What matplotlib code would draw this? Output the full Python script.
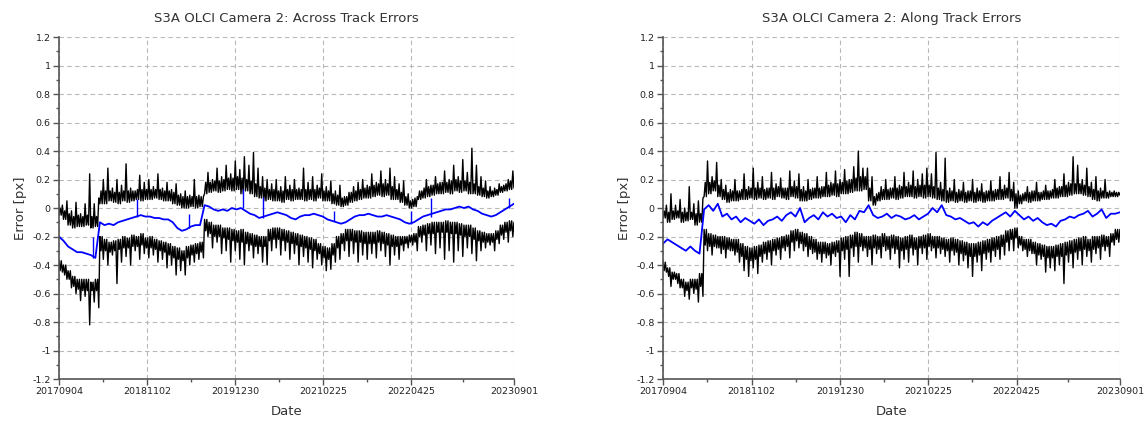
import numpy as np
import pandas as pd
import matplotlib
matplotlib.use("Agg")
import matplotlib.pyplot as plt

# ---------------------------------------------------------------------------
# Data: S3A OLCI camera 2 geolocation errors (pixels), sampled along the period
# ---------------------------------------------------------------------------
start_date = "20170904"
end_date = "20230901"
n_samples = 101

tick_labels = ["20170904", "20181102", "20191230", "20210225", "20220425", "20230901"]
y_ticks = [-1.2, -1.0, -0.8, -0.6, -0.4, -0.2, 0.0, 0.2, 0.4, 0.6, 0.8, 1.0, 1.2]

# Across track, upper envelope: band floor, dense band top, spike tips
across_upper_lo = [-0.05, -0.08, -0.12, -0.14, -0.13, -0.13, -0.12, -0.14, -0.13, 0.03,
                   0.03, 0.05, 0.04, 0.03, 0.05, 0.04, 0.05, 0.06, 0.05, 0.06,
                   0.06, 0.07, 0.06, 0.05, 0.05, 0.03, 0.02, 0.00, 0.00, 0.01,
                   0.00, 0.01, 0.10, 0.11, 0.12, 0.11, 0.12, 0.13, 0.12, 0.13,
                   0.10, 0.12, 0.10, 0.08, 0.07, 0.05, 0.06, 0.05, 0.05, 0.04,
                   0.06, 0.05, 0.06, 0.06, 0.05, 0.06, 0.05, 0.07, 0.05, 0.05,
                   0.03, 0.02, 0.01, 0.02, 0.04, 0.05, 0.06, 0.07, 0.07, 0.08,
                   0.09, 0.08, 0.09, 0.06, 0.06, 0.04, 0.02, 0.00, 0.01, 0.06,
                   0.07, 0.08, 0.09, 0.10, 0.10, 0.11, 0.10, 0.12, 0.11, 0.12,
                   0.10, 0.10, 0.09, 0.08, 0.07, 0.08, 0.09, 0.11, 0.12, 0.13,
                   0.14]
across_upper_core = [0.00, -0.02, -0.04, -0.06, -0.05, -0.06, -0.05, -0.06, -0.06, 0.12,
                     0.12, 0.12, 0.11, 0.11, 0.12, 0.12, 0.12, 0.13, 0.13, 0.13,
                     0.13, 0.13, 0.13, 0.12, 0.12, 0.11, 0.09, 0.08, 0.08, 0.08,
                     0.08, 0.08, 0.18, 0.18, 0.19, 0.19, 0.20, 0.21, 0.21, 0.22,
                     0.21, 0.20, 0.19, 0.17, 0.15, 0.14, 0.13, 0.13, 0.12, 0.12,
                     0.13, 0.13, 0.13, 0.13, 0.13, 0.13, 0.13, 0.14, 0.12, 0.12,
                     0.10, 0.09, 0.07, 0.08, 0.11, 0.12, 0.13, 0.14, 0.15, 0.16,
                     0.17, 0.17, 0.17, 0.15, 0.13, 0.11, 0.08, 0.05, 0.07, 0.12,
                     0.14, 0.15, 0.16, 0.17, 0.18, 0.18, 0.19, 0.20, 0.19, 0.19,
                     0.18, 0.17, 0.15, 0.14, 0.12, 0.12, 0.13, 0.15, 0.17, 0.19,
                     0.20]
across_upper_hi = [0.02, 0.05, -0.02, 0.04, -0.04, 0.03, 0.24, 0.03, 0.07, 0.20,
                   0.28, 0.14, 0.20, 0.16, 0.31, 0.14, 0.12, 0.23, 0.18, 0.20,
                   0.15, 0.24, 0.14, 0.18, 0.13, 0.17, 0.10, 0.12, 0.09, 0.20,
                   0.09, 0.08, 0.25, 0.20, 0.28, 0.22, 0.30, 0.24, 0.33, 0.27,
                   0.36, 0.30, 0.39, 0.28, 0.22, 0.20, 0.17, 0.20, 0.15, 0.22,
                   0.16, 0.20, 0.14, 0.28, 0.18, 0.22, 0.16, 0.24, 0.15, 0.19,
                   0.12, 0.16, 0.08, 0.11, 0.15, 0.18, 0.20, 0.16, 0.24, 0.18,
                   0.26, 0.20, 0.28, 0.22, 0.17, 0.19, 0.10, 0.06, 0.08, 0.12,
                   0.20, 0.16, 0.22, 0.18, 0.26, 0.20, 0.30, 0.22, 0.34, 0.25,
                   0.42, 0.30, 0.22, 0.19, 0.15, 0.14, 0.17, 0.16, 0.20, 0.26,
                   0.23]
# Across track, mean error
across_mean = [-0.20, -0.23, -0.27, -0.29, -0.31, -0.31, -0.32, -0.33, -0.35, -0.10,
               -0.12, -0.11, -0.12, -0.10, -0.09, -0.08, -0.07, -0.06, -0.05, -0.06,
               -0.06, -0.07, -0.07, -0.08, -0.08, -0.10, -0.14, -0.16, -0.15, -0.13,
               -0.12, -0.12, 0.02, 0.01, -0.01, -0.02, -0.01, -0.02, 0.00, -0.01,
               0.00, -0.02, -0.04, -0.05, -0.07, -0.06, -0.05, -0.04, -0.03, -0.04,
               -0.05, -0.07, -0.08, -0.06, -0.05, -0.05, -0.04, -0.05, -0.06, -0.08,
               -0.09, -0.10, -0.11, -0.10, -0.08, -0.06, -0.05, -0.05, -0.04, -0.05,
               -0.06, -0.06, -0.05, -0.06, -0.07, -0.08, -0.10, -0.11, -0.10, -0.08,
               -0.06, -0.05, -0.04, -0.03, -0.02, -0.01, -0.01, 0.00, 0.01, 0.00,
               0.01, -0.01, -0.02, -0.04, -0.05, -0.06, -0.05, -0.03, -0.01, 0.01,
               0.03]
# Across track, lower envelope: spike tips, dense band bottom, band ceiling
across_lower_lo = [-0.45, -0.50, -0.56, -0.60, -0.65, -0.62, -0.82, -0.66, -0.70, -0.36,
                   -0.40, -0.33, -0.53, -0.38, -0.34, -0.40, -0.30, -0.36, -0.32, -0.35,
                   -0.33, -0.38, -0.36, -0.42, -0.40, -0.47, -0.44, -0.47, -0.40, -0.38,
                   -0.36, -0.35, -0.20, -0.28, -0.24, -0.32, -0.30, -0.38, -0.30, -0.36,
                   -0.40, -0.30, -0.35, -0.32, -0.38, -0.40, -0.30, -0.28, -0.33, -0.30,
                   -0.36, -0.32, -0.40, -0.34, -0.38, -0.42, -0.36, -0.40, -0.44, -0.43,
                   -0.38, -0.36, -0.30, -0.34, -0.32, -0.38, -0.33, -0.36, -0.32, -0.35,
                   -0.30, -0.34, -0.40, -0.33, -0.36, -0.30, -0.28, -0.26, -0.30, -0.24,
                   -0.30, -0.26, -0.32, -0.28, -0.36, -0.30, -0.38, -0.30, -0.34, -0.28,
                   -0.32, -0.37, -0.30, -0.28, -0.26, -0.30, -0.25, -0.22, -0.24, -0.20,
                   -0.18]
across_lower_core = [-0.44, -0.47, -0.50, -0.55, -0.57, -0.58, -0.58, -0.58, -0.58, -0.30,
                     -0.30, -0.31, -0.30, -0.29, -0.28, -0.28, -0.27, -0.27, -0.26, -0.28,
                     -0.28, -0.29, -0.30, -0.31, -0.33, -0.35, -0.36, -0.37, -0.35, -0.33,
                     -0.32, -0.31, -0.16, -0.18, -0.20, -0.20, -0.21, -0.22, -0.23, -0.24,
                     -0.24, -0.25, -0.26, -0.27, -0.27, -0.27, -0.23, -0.22, -0.22, -0.23,
                     -0.24, -0.25, -0.26, -0.27, -0.28, -0.29, -0.30, -0.32, -0.35, -0.36,
                     -0.33, -0.28, -0.25, -0.23, -0.23, -0.24, -0.24, -0.25, -0.25, -0.25,
                     -0.24, -0.25, -0.26, -0.27, -0.27, -0.26, -0.25, -0.24, -0.24, -0.20,
                     -0.19, -0.18, -0.18, -0.17, -0.17, -0.17, -0.18, -0.18, -0.19, -0.20,
                     -0.20, -0.22, -0.23, -0.24, -0.24, -0.24, -0.22, -0.19, -0.17, -0.16,
                     -0.16]
across_lower_hi = [-0.37, -0.40, -0.44, -0.48, -0.50, -0.50, -0.50, -0.52, -0.50, -0.20,
                   -0.22, -0.24, -0.23, -0.22, -0.20, -0.21, -0.19, -0.20, -0.18, -0.21,
                   -0.20, -0.22, -0.23, -0.24, -0.25, -0.27, -0.28, -0.30, -0.27, -0.26,
                   -0.25, -0.24, -0.08, -0.10, -0.12, -0.12, -0.14, -0.14, -0.15, -0.16,
                   -0.15, -0.17, -0.18, -0.19, -0.20, -0.20, -0.15, -0.14, -0.14, -0.15,
                   -0.16, -0.17, -0.18, -0.19, -0.20, -0.21, -0.22, -0.25, -0.27, -0.28,
                   -0.25, -0.20, -0.18, -0.15, -0.15, -0.16, -0.16, -0.17, -0.17, -0.17,
                   -0.16, -0.17, -0.18, -0.19, -0.20, -0.20, -0.20, -0.19, -0.18, -0.13,
                   -0.12, -0.11, -0.10, -0.10, -0.10, -0.09, -0.10, -0.10, -0.11, -0.12,
                   -0.12, -0.14, -0.16, -0.17, -0.18, -0.18, -0.16, -0.12, -0.10, -0.09,
                   -0.10]
# Across track, isolated excursions of the mean (date, from, to)
across_mean_spike_dates = ["20180217", "20180916", "20190523", "20200205", "20200513",
                           "20210417", "20220425", "20220730", "20230806"]
across_mean_spike_from = [-0.35, -0.06, -0.14, 0.00, -0.07, -0.09, -0.11, -0.06, 0.00]
across_mean_spike_to = [-0.20, 0.06, -0.04, 0.13, 0.08, -0.02, -0.02, 0.07, 0.07]

# Along track, upper envelope
along_upper_lo = [-0.07, -0.10, -0.08, -0.07, -0.10, -0.09, -0.08, -0.12, -0.10, 0.08,
                  0.10, 0.12, 0.08, 0.06, 0.04, 0.05, 0.05, 0.06, 0.06, 0.07,
                  0.06, 0.07, 0.06, 0.07, 0.06, 0.08, 0.07, 0.06, 0.08, 0.07,
                  0.05, 0.05, 0.06, 0.07, 0.07, 0.08, 0.08, 0.09, 0.08, 0.10,
                  0.10, 0.11, 0.12, 0.12, 0.13, 0.05, 0.02, 0.05, 0.06, 0.06,
                  0.07, 0.06, 0.07, 0.08, 0.08, 0.07, 0.08, 0.07, 0.08, 0.07,
                  0.06, 0.05, 0.04, 0.05, 0.04, 0.05, 0.04, 0.05, 0.04, 0.05,
                  0.04, 0.05, 0.05, 0.06, 0.06, 0.07, 0.05, 0.00, 0.03, 0.05,
                  0.04, 0.05, 0.05, 0.06, 0.06, 0.07, 0.07, 0.08, 0.08, 0.09,
                  0.10, 0.10, 0.09, 0.08, 0.06, 0.05, 0.07, 0.07, 0.08, 0.08,
                  0.09]
along_upper_core = [-0.02, -0.03, -0.02, -0.02, -0.03, -0.03, -0.03, -0.04, -0.04, 0.18,
                    0.18, 0.19, 0.16, 0.13, 0.11, 0.12, 0.12, 0.13, 0.13, 0.14,
                    0.14, 0.14, 0.13, 0.14, 0.14, 0.15, 0.14, 0.14, 0.15, 0.15,
                    0.13, 0.12, 0.13, 0.14, 0.14, 0.15, 0.16, 0.17, 0.17, 0.18,
                    0.19, 0.20, 0.21, 0.22, 0.22, 0.14, 0.08, 0.11, 0.13, 0.13,
                    0.14, 0.14, 0.15, 0.15, 0.16, 0.15, 0.16, 0.16, 0.16, 0.15,
                    0.14, 0.13, 0.12, 0.12, 0.11, 0.12, 0.11, 0.12, 0.11, 0.12,
                    0.11, 0.12, 0.12, 0.13, 0.13, 0.14, 0.13, 0.10, 0.09, 0.11,
                    0.11, 0.12, 0.11, 0.12, 0.12, 0.13, 0.14, 0.15, 0.16, 0.17,
                    0.17, 0.17, 0.16, 0.15, 0.13, 0.12, 0.12, 0.11, 0.11, 0.11,
                    0.11]
along_upper_hi = [0.02, 0.10, 0.02, 0.06, 0.00, 0.15, 0.03, 0.05, 0.07, 0.33,
                  0.22, 0.32, 0.20, 0.16, 0.13, 0.20, 0.12, 0.24, 0.15, 0.28,
                  0.18, 0.22, 0.14, 0.25, 0.17, 0.21, 0.14, 0.26, 0.19, 0.24,
                  0.15, 0.20, 0.14, 0.22, 0.15, 0.25, 0.18, 0.26, 0.20, 0.27,
                  0.20, 0.29, 0.40, 0.28, 0.28, 0.22, 0.10, 0.15, 0.20, 0.14,
                  0.22, 0.16, 0.25, 0.18, 0.26, 0.20, 0.24, 0.28, 0.24, 0.39,
                  0.18, 0.35, 0.14, 0.20, 0.13, 0.18, 0.12, 0.20, 0.14, 0.17,
                  0.12, 0.19, 0.13, 0.22, 0.16, 0.25, 0.18, 0.12, 0.10, 0.15,
                  0.12, 0.18, 0.11, 0.16, 0.12, 0.20, 0.15, 0.24, 0.18, 0.36,
                  0.30, 0.20, 0.28, 0.18, 0.22, 0.14, 0.20, 0.12, 0.12, 0.11,
                  0.11]
# Along track, mean error
along_mean = [-0.25, -0.22, -0.24, -0.26, -0.28, -0.30, -0.27, -0.30, -0.32, -0.01,
              0.02, -0.02, 0.03, -0.06, -0.04, -0.08, -0.06, -0.10, -0.07, -0.09,
              -0.11, -0.08, -0.12, -0.09, -0.08, -0.06, -0.09, -0.05, -0.03, -0.06,
              0.00, -0.10, -0.07, -0.05, -0.08, -0.03, -0.06, -0.04, -0.07, -0.06,
              -0.10, -0.05, -0.08, -0.02, -0.03, 0.02, -0.05, -0.07, -0.06, -0.04,
              -0.07, -0.05, -0.06, -0.08, -0.07, -0.05, -0.08, -0.06, -0.04, 0.00,
              -0.03, 0.02, -0.05, -0.06, -0.08, -0.07, -0.09, -0.11, -0.10, -0.13,
              -0.10, -0.12, -0.09, -0.07, -0.05, -0.03, -0.06, -0.02, -0.05, -0.08,
              -0.06, -0.09, -0.07, -0.10, -0.12, -0.11, -0.13, -0.09, -0.08, -0.06,
              -0.07, -0.05, -0.04, -0.02, -0.06, -0.04, -0.01, -0.07, -0.04, -0.04,
              -0.03]
# Along track, lower envelope
along_lower_lo = [-0.45, -0.55, -0.50, -0.56, -0.62, -0.64, -0.60, -0.66, -0.62, -0.30,
                  -0.33, -0.28, -0.32, -0.35, -0.30, -0.33, -0.38, -0.44, -0.48, -0.42,
                  -0.46, -0.38, -0.36, -0.40, -0.33, -0.36, -0.30, -0.35, -0.30, -0.28,
                  -0.30, -0.34, -0.32, -0.36, -0.38, -0.35, -0.40, -0.34, -0.48, -0.36,
                  -0.48, -0.34, -0.38, -0.30, -0.34, -0.40, -0.32, -0.35, -0.30, -0.36,
                  -0.32, -0.42, -0.36, -0.38, -0.33, -0.40, -0.32, -0.36, -0.30, -0.35,
                  -0.32, -0.34, -0.38, -0.33, -0.40, -0.37, -0.42, -0.48, -0.38, -0.44,
                  -0.36, -0.38, -0.34, -0.36, -0.33, -0.30, -0.30, -0.28, -0.30, -0.34,
                  -0.32, -0.40, -0.36, -0.45, -0.42, -0.44, -0.40, -0.53, -0.38, -0.42,
                  -0.36, -0.40, -0.34, -0.38, -0.32, -0.36, -0.30, -0.34, -0.26, -0.24,
                  -0.20]
along_lower_core = [-0.44, -0.48, -0.50, -0.53, -0.56, -0.58, -0.56, -0.57, -0.55, -0.26,
                    -0.27, -0.27, -0.28, -0.29, -0.29, -0.30, -0.31, -0.34, -0.36, -0.37,
                    -0.36, -0.34, -0.32, -0.31, -0.30, -0.29, -0.28, -0.27, -0.24, -0.23,
                    -0.25, -0.27, -0.29, -0.31, -0.32, -0.32, -0.33, -0.32, -0.31, -0.30,
                    -0.29, -0.28, -0.27, -0.27, -0.28, -0.29, -0.28, -0.29, -0.27, -0.29,
                    -0.28, -0.29, -0.30, -0.29, -0.28, -0.29, -0.28, -0.28, -0.27, -0.28,
                    -0.28, -0.29, -0.30, -0.30, -0.31, -0.32, -0.33, -0.34, -0.34, -0.33,
                    -0.32, -0.31, -0.30, -0.29, -0.27, -0.24, -0.22, -0.21, -0.26, -0.29,
                    -0.30, -0.32, -0.33, -0.34, -0.35, -0.35, -0.34, -0.34, -0.33, -0.32,
                    -0.31, -0.30, -0.29, -0.30, -0.29, -0.28, -0.27, -0.27, -0.24, -0.22,
                    -0.19]
along_lower_hi = [-0.38, -0.42, -0.45, -0.46, -0.50, -0.52, -0.50, -0.50, -0.46, -0.15,
                  -0.18, -0.19, -0.20, -0.20, -0.21, -0.22, -0.22, -0.25, -0.27, -0.28,
                  -0.27, -0.26, -0.24, -0.23, -0.22, -0.21, -0.20, -0.19, -0.16, -0.15,
                  -0.17, -0.18, -0.20, -0.22, -0.24, -0.24, -0.25, -0.24, -0.23, -0.21,
                  -0.20, -0.19, -0.17, -0.18, -0.20, -0.20, -0.19, -0.20, -0.18, -0.20,
                  -0.19, -0.20, -0.21, -0.20, -0.19, -0.21, -0.20, -0.19, -0.18, -0.20,
                  -0.20, -0.21, -0.22, -0.21, -0.22, -0.23, -0.24, -0.25, -0.25, -0.24,
                  -0.23, -0.22, -0.21, -0.20, -0.19, -0.16, -0.15, -0.14, -0.20, -0.22,
                  -0.22, -0.24, -0.25, -0.26, -0.27, -0.27, -0.26, -0.25, -0.24, -0.23,
                  -0.22, -0.21, -0.20, -0.22, -0.20, -0.20, -0.19, -0.20, -0.18, -0.15,
                  -0.15]

panels = [
    dict(title="S3A OLCI Camera 2: Across Track Errors",
         upper=(across_upper_lo, across_upper_core, across_upper_hi),
         lower=(across_lower_hi, across_lower_core, across_lower_lo),
         mean=across_mean,
         spikes=(across_mean_spike_dates, across_mean_spike_from, across_mean_spike_to)),
    dict(title="S3A OLCI Camera 2: Along Track Errors",
         upper=(along_upper_lo, along_upper_core, along_upper_hi),
         lower=(along_lower_hi, along_lower_core, along_lower_lo),
         mean=along_mean,
         spikes=None),
]

# ---------------------------------------------------------------------------
plt.rcParams["font.family"] = ["DejaVu Sans"]

fig = plt.figure(figsize=(11.47, 4.23), dpi=100)
axes_rects = [[0.0514, 0.104, 0.3967, 0.8085], [0.578, 0.104, 0.3984, 0.8085]]

t0 = pd.to_datetime(start_date, format="%Y%m%d")
t1 = pd.to_datetime(end_date, format="%Y%m%d")
sample_times = pd.date_range(t0, t1, periods=n_samples)
quarter_step = (sample_times[1] - sample_times[0]) / 4
tick_times = pd.to_datetime(tick_labels, format="%Y%m%d")
minor_times = [tick_times[i] + (tick_times[i + 1] - tick_times[i]) / 2
               for i in range(len(tick_times) - 1)]


def dense_trace(base, core, tip):
    """Within each sample interval, swing base->core->base->tip like a noisy daily series."""
    xs, ys = [], []
    for t, b, c, s in zip(sample_times, base, core, tip):
        xs += [t, t + quarter_step, t + 2 * quarter_step, t + 3 * quarter_step]
        ys += [b, c, b, s]
    return xs, ys


def fmt_y(v):
    s = f"{v:.1f}".rstrip("0").rstrip(".")
    return "0" if s in ("-0", "0") else s


for rect, p in zip(axes_rects, panels):
    ax = fig.add_axes(rect)

    for base, core, tip in (p["upper"], p["lower"]):
        xs, ys = dense_trace(base, core, tip)
        ax.plot(xs, ys, color="black", lw=1.0)

    ax.plot(sample_times, p["mean"], color="#0000ff", lw=1.3)
    if p["spikes"] is not None:
        sd, sf, st = p["spikes"]
        ax.vlines(pd.to_datetime(sd, format="%Y%m%d"), sf, st, color="#0000ff", lw=1.0)

    ax.set_xlim(t0, t1)
    ax.set_ylim(-1.2, 1.2)
    ax.set_xticks(tick_times)
    ax.set_xticklabels(tick_labels)
    ax.set_xticks(minor_times, minor=True)
    ax.set_yticks(y_ticks)
    ax.set_yticklabels([fmt_y(v) for v in y_ticks])
    ax.set_yticks(np.arange(-1.1, 1.2, 0.2), minor=True)

    ax.grid(True, which="major", color="#b8b8b8", linestyle=(0, (4, 3)), lw=0.8)
    ax.set_axisbelow(True)
    for side in ("top", "right"):
        ax.spines[side].set_visible(False)
    for side in ("left", "bottom"):
        ax.spines[side].set_color("#555555")
        ax.spines[side].set_linewidth(1.2)

    ax.tick_params(which="major", direction="out", length=4, width=1.0,
                   color="#555555", labelsize=6.8, labelcolor="#222222", pad=2)
    ax.tick_params(which="minor", direction="out", length=2.5, width=1.0,
                   color="#555555")

    ax.set_title(p["title"], fontsize=9.5, color="#333333", pad=11)
    ax.set_xlabel("Date", fontsize=9.5, color="#333333", labelpad=6)
    ax.set_ylabel("Error [px]", fontsize=9.5, color="#333333", labelpad=4)

fig.savefig("out.png", dpi=100)
